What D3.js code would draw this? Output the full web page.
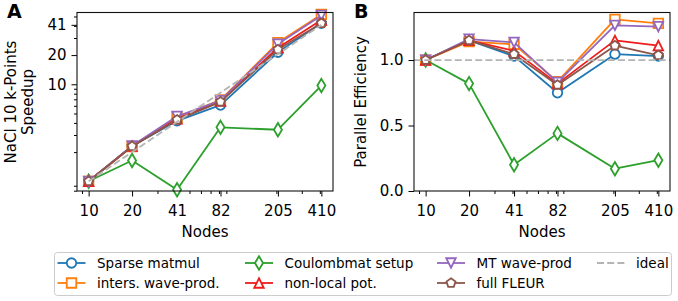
<!DOCTYPE html>
<html>
<head>
<meta charset="utf-8">
<script src="https://cdn.jsdelivr.net/npm/d3@7"></script>
<style>
  body { margin: 0; background: white; }
  svg text { font-family: "DejaVu Sans", sans-serif; fill: #000; }
</style>
</head>
<body>
<div id="chart"></div>
<script>
//  data
const nodes = [10, 20, 41, 82, 205, 410];
const speedupTicks = [10, 20, 41];
const effTicks = [0.0, 0.5, 1.0];

const seriesNames = ["Sparse matmul", "inters. wave-prod.", "Coulombmat setup", "non-local pot.", "MT wave-prod", "full FLEUR"];

const speedupSparse   = [1, 2.3, 4.2, 6.1, 21.4, 42.5];
const speedupInters   = [1, 2.28, 4.55, 6.9, 26.9, 52.5];
const speedupCoulomb  = [1, 1.64, 0.82, 3.6, 3.4, 9.7];
const speedupNonlocal = [1, 2.3, 4.4, 6.7, 23.8, 46];
const speedupMT       = [1, 2.32, 4.67, 6.8, 26, 51.3];
const speedupFull     = [1, 2.3, 4.3, 6.6, 22.8, 42.6];
const speedupIdeal    = [1, 2, 4.1, 8.2, 20.5, 41];

const effSparse   = [1.0, 1.15, 1.03, 0.75, 1.045, 1.03];
const effInters   = [1.0, 1.14, 1.12, 0.835, 1.31, 1.28];
const effCoulomb  = [1.0, 0.82, 0.20, 0.44, 0.17, 0.235];
const effNonlocal = [1.0, 1.15, 1.07, 0.82, 1.15, 1.11];
const effMT       = [1.0, 1.16, 1.135, 0.83, 1.265, 1.255];
const effFull     = [1.0, 1.15, 1.045, 0.81, 1.11, 1.036];
const effIdeal    = 1.0;

//  styles
const colors = ["#1f77b4", "#ff7f0e", "#2ca02c", "#ee1c1c", "#9467bd", "#8c564b"];
const markers = ["o", "s", "d", "^", "v", "p"];
const ms = 9.5;
const lw = 1.8;
const idealColor = "#b4b4b4";

const speedups = [speedupSparse, speedupInters, speedupCoulomb, speedupNonlocal, speedupMT, speedupFull];
const effs = [effSparse, effInters, effCoulomb, effNonlocal, effMT, effFull];

const W = 678, H = 301;
const svg = d3.select("#chart").append("svg").attr("width", W).attr("height", H);

//  marker path, centered at 0,0
function markerPath(m) {
  const h = ms / 2;
  if (m == "o") return d3.arc()({innerRadius: 0, outerRadius: h, startAngle: 0, endAngle: 2 * Math.PI});
  if (m == "s") return `M${-h},${-h}H${h}V${h}H${-h}Z`;
  if (m == "^") return `M0,${-h}L${h},${h}L${-h},${h}Z`;
  if (m == "v") return `M0,${h}L${h},${-h}L${-h},${-h}Z`;
  if (m == "d") {
    const dy = h * Math.SQRT2, dx = dy * 0.6;
    return `M0,${-dy}L${dx},0L0,${dy}L${-dx},0Z`;
  }
  if (m == "p") {
    const pts = d3.range(5).map(i => {
      const a = -Math.PI / 2 + i * 2 * Math.PI / 5;
      return [h * Math.cos(a), h * Math.sin(a)];
    });
    return "M" + pts.map(p => p.join(",")).join("L") + "Z";
  }
}

function drawMarker(g, m, color, x, y) {
  g.append("path")
    .attr("d", markerPath(m))
    .attr("transform", `translate(${x},${y})`)
    .attr("fill", "white")
    .attr("stroke", color)
    .attr("stroke-width", lw);
}

//  minor log ticks (subs 2..9)
function logMinor(domain, major) {
  const out = [];
  for (let e = -2; e < 4; e++) {
    for (let s = 2; s < 10; s++) {
      const v = s * Math.pow(10, e);
      if (v >= domain[0] && v <= domain[1] && !major.includes(v)) out.push(v);
    }
  }
  return out;
}

const plotTop = 12.5, plotBottom = 191;
const xDomain = [Math.pow(10, 0.9194), Math.pow(10, 2.6934)];

function panel(x0, x1, y, yTicks, yFmt, values, idealFn, minorY) {
  const x = d3.scaleLog().domain(xDomain).range([x0, x1]);
  const g = svg.append("g");

  // x axis
  g.append("g")
    .attr("transform", `translate(0,${plotBottom})`)
    .call(d3.axisBottom(x).tickValues(logMinor(xDomain, nodes)).tickSize(3).tickFormat(""))
    .call(a => a.select(".domain").remove());
  g.append("g")
    .attr("transform", `translate(0,${plotBottom})`)
    .call(d3.axisBottom(x).tickValues(nodes).tickFormat(d3.format("d")).tickSize(5.5).tickPadding(8.5))
    .call(a => a.select(".domain").remove())
    .call(a => a.selectAll("text").style("font-size", "15px"));

  // y axis
  if (minorY) {
    g.append("g")
      .attr("transform", `translate(${x0},0)`)
      .call(d3.axisLeft(y).tickValues(logMinor(y.domain(), yTicks)).tickSize(3).tickFormat(""))
      .call(a => a.select(".domain").remove());
  }
  g.append("g")
    .attr("transform", `translate(${x0},0)`)
    .call(d3.axisLeft(y).tickValues(yTicks).tickFormat(yFmt).tickSize(5.5).tickPadding(5))
    .call(a => a.select(".domain").remove())
    .call(a => a.selectAll("text").style("font-size", "15px"));

  const line = d3.line().x((d, i) => x(nodes[i])).y(d => y(d));

  // series
  values.forEach((vals, k) => {
    g.append("path")
      .attr("d", line(vals))
      .attr("fill", "none")
      .attr("stroke", colors[k])
      .attr("stroke-width", lw)
      .attr("stroke-linejoin", "round");
    vals.forEach((v, i) => drawMarker(g, markers[k], colors[k], x(nodes[i]), y(v)));
  });

  // ideal
  idealFn(g, x);

  // frame
  g.append("rect")
    .attr("x", x0).attr("y", plotTop)
    .attr("width", x1 - x0).attr("height", plotBottom - plotTop)
    .attr("fill", "none").attr("stroke", "#111").attr("stroke-width", 1.1);

  // x label
  g.append("text")
    .attr("x", (x0 + x1) / 2).attr("y", 236.5)
    .attr("text-anchor", "middle")
    .style("font-size", "15px")
    .text("Nodes");
  return x;
}

//  panel A
const yL = d3.scaleLog().domain([Math.pow(10, -0.1), Math.pow(10, 1.74)]).range([plotBottom, plotTop]);
panel(77, 333, yL, speedupTicks, d3.format("d"), speedups, (g, x) => {
  g.append("path")
    .attr("d", d3.line().x((d, i) => x(nodes[i])).y(d => yL(d))(speedupIdeal))
    .attr("fill", "none")
    .attr("stroke", idealColor)
    .attr("stroke-width", lw)
    .attr("stroke-dasharray", "7,3.2");
}, true);

//  panel B
const yR = d3.scaleLinear().domain([0, 1.363]).range([plotBottom, plotTop]);
panel(414, 670, yR, effTicks, d3.format(".1f"), effs, (g, x) => {
  g.append("line")
    .attr("x1", 414).attr("x2", 670)
    .attr("y1", yR(effIdeal)).attr("y2", yR(effIdeal))
    .attr("stroke", idealColor)
    .attr("stroke-width", lw)
    .attr("stroke-dasharray", "7,3.2");
}, false);

//  y labels
svg.append("text")
  .attr("transform", "translate(16,102) rotate(-90)")
  .attr("text-anchor", "middle")
  .style("font-size", "15px")
  .text("NaCl 10 k-Points");
svg.append("text")
  .attr("transform", "translate(33,102) rotate(-90)")
  .attr("text-anchor", "middle")
  .style("font-size", "15px")
  .text("Speedup");
svg.append("text")
  .attr("transform", "translate(366,102) rotate(-90)")
  .attr("text-anchor", "middle")
  .style("font-size", "15px")
  .text("Parallel Efficiency");

//  panel letters
svg.append("text").attr("x", 7).attr("y", 18)
  .style("font-size", "19px").style("font-weight", "bold").text("A");
svg.append("text").attr("x", 354).attr("y", 18)
  .style("font-size", "19px").style("font-weight", "bold").text("B");

//  legend
const leg = svg.append("g");
leg.append("rect")
  .attr("x", 54.5).attr("y", 252.5).attr("width", 617).attr("height", 43)
  .attr("rx", 3)
  .attr("fill", "white").attr("stroke", "#cccccc").attr("stroke-width", 1);

const colX = [57.5, 245, 437, 597];
const rowY = [263, 283];
seriesNames.forEach((name, k) => {
  const cx = colX[Math.floor(k / 2)], cy = rowY[k % 2];
  leg.append("line")
    .attr("x1", cx).attr("x2", cx + 28).attr("y1", cy).attr("y2", cy)
    .attr("stroke", colors[k]).attr("stroke-width", lw);
  drawMarker(leg, markers[k], colors[k], cx + 14, cy);
  leg.append("text")
    .attr("x", cx + 39.5).attr("y", cy + 4.8)
    .style("font-size", "13.5px")
    .text(name);
});
leg.append("line")
  .attr("x1", colX[3]).attr("x2", colX[3] + 28).attr("y1", rowY[0]).attr("y2", rowY[0])
  .attr("stroke", idealColor).attr("stroke-width", lw).attr("stroke-dasharray", "7,3.2");
leg.append("text")
  .attr("x", colX[3] + 39).attr("y", rowY[0] + 4.8)
  .style("font-size", "13.5px")
  .text("ideal");
</script>
</body>
</html>
